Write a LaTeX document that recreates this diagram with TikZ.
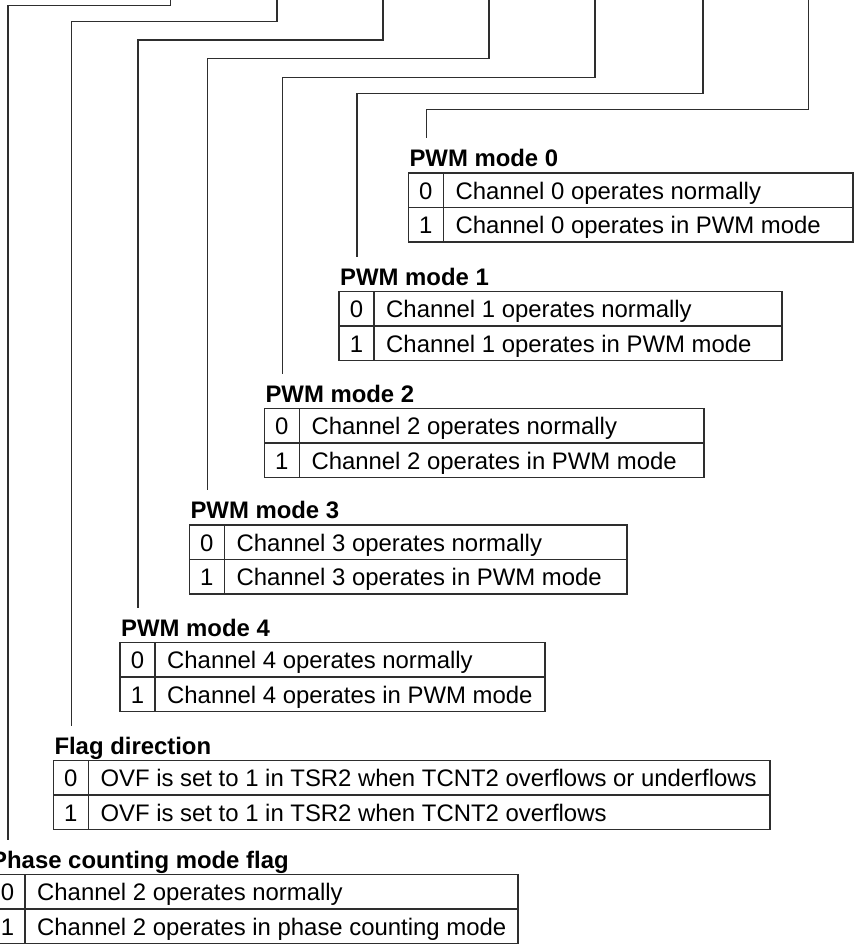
\documentclass[tikz,border=0pt]{standalone}
\usepackage{fontspec}
\setmainfont{Liberation Sans}
\begin{document}
\fontsize{23.9}{28}\selectfont
\begin{tikzpicture}[x=1pt,y=-1pt]
\definecolor{linec}{gray}{0.18}
\tikzset{
  tbox/.style={draw=linec, line width=1.2pt, inner sep=0pt, outer sep=0pt, anchor=north west, minimum height=69pt},
  ttl/.style={anchor=base west, inner sep=0pt, font=\bfseries},
  cell/.style={anchor=base west, inner sep=0pt},
  num/.style={anchor=base, inner sep=0pt},
  conn/.style={draw=linec, line width=1.2pt},
}
\useasboundingbox (0,0) rectangle (859,944);
% #1 name, #2 left, #3 top, #4 right, #5 title, #6 text0, #7 text1, #8 top x of connector, #9 bend y
\newcommand{\bittable}[9]{%
  \node[tbox, minimum width={#4-#2}] (#1) at (#2,#3) {};
  \node[ttl] (#1t) at ([xshift=1pt, yshift=6.5pt]#1.north west) {#5};
  \draw[conn] ([xshift=35pt]#1.north west) -- ([xshift=35pt]#1.south west);
  \draw[conn] (#1.west) -- (#1.east);
  \node[num] (#1n0) at ([xshift=17.5pt, yshift=-26pt]#1.north west) {0};
  \node[num] (#1n1) at ([xshift=17.5pt, yshift=-60.5pt]#1.north west) {1};
  \node[cell] (#1r0) at ([xshift=47pt, yshift=-26pt]#1.north west) {#6};
  \node[cell] (#1r1) at ([xshift=47pt, yshift=-60.5pt]#1.north west) {#7};
  \coordinate (#1end) at ([xshift=18pt, yshift=35pt]#1.north west);
  \coordinate (#1top) at (#8,-3);
  \coordinate (#1bend) at (#1end |- {(0,#9)});
  \draw[conn] (#1top) |- (#1bend) -- (#1end);
}
\bittable{pwmA}{408.3}{173}{853}{PWM mode 0}{Channel 0 operates normally}{Channel 0 operates in PWM mode}{808.5}{109.3}
\bittable{pwmB}{339}{291.5}{782}{PWM mode 1}{Channel 1 operates normally}{Channel 1 operates in PWM mode}{703}{93.3}
\bittable{pwmC}{264.3}{408.5}{704}{PWM mode 2}{Channel 2 operates normally}{Channel 2 operates in PWM mode}{595}{77.3}
\bittable{pwmD}{189.3}{525}{627}{PWM mode 3}{Channel 3 operates normally}{Channel 3 operates in PWM mode}{489}{58.7}
\bittable{pwmE}{120}{642.5}{545}{PWM mode 4}{Channel 4 operates normally}{Channel 4 operates in PWM mode}{383}{40}
\bittable{flag}{53.3}{760.5}{770}{Flag direction}{OVF is set to 1 in TSR2 when TCNT2 overflows or underflows}{OVF is set to 1 in TSR2 when TCNT2 overflows}{277}{21.3}
\bittable{phase}{-10}{874.5}{518}{Phase counting mode flag}{Channel 2 operates normally}{Channel 2 operates in phase counting mode}{170.7}{5.3}
\end{tikzpicture}
\end{document}
